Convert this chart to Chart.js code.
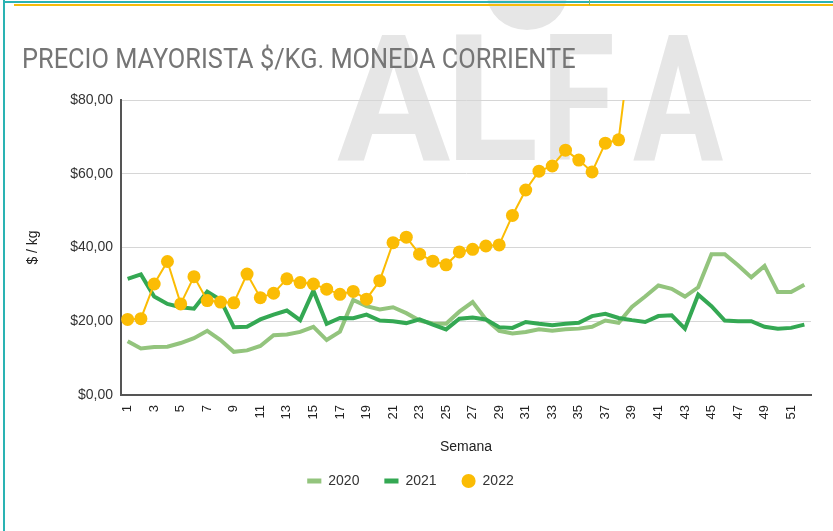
<!DOCTYPE html>
<html><head><meta charset="utf-8">
<script src="https://cdn.jsdelivr.net/npm/chart.js@4.4.1/dist/chart.umd.min.js"></script>
<style>
html,body{margin:0;padding:0;background:#fff;}
#wrap{position:relative;width:833px;height:531px;overflow:hidden;background:#fff;}
canvas{position:absolute;left:0;top:0;}
#title{position:absolute;left:22px;top:45px;font-family:Roboto,sans-serif;font-size:28px;line-height:28px;color:#757575;white-space:nowrap;transform:scaleX(0.906);transform-origin:0 0;}
.b{position:absolute;}
</style></head><body>
<div id="wrap">
<canvas id="c" width="833" height="531"></canvas>
<div id="title">PRECIO MAYORISTA $/KG. MONEDA CORRIENTE</div>
<div class="b" style="left:3px;top:0;width:2px;height:531px;background:#2ab3b3"></div>
<div class="b" style="left:3px;top:1px;width:830px;height:2px;background:#2ab3b3"></div>
<div class="b" style="left:14px;top:4px;width:819px;height:2px;background:#f6bb0a"></div>
<div class="b" style="left:589px;top:0;width:1px;height:5px;background:#7fb66a"></div>
</div>
<script>
const weeks = ['1','2','3','4','5','6','7','8','9','10','11','12','13','14','15','16','17','18','19','20','21','22','23','24','25','26','27','28','29','30','31','32','33','34','35','36','37','38','39','40','41','42','43','44','45','46','47','48','49','50','51','52'];
const p2020 = [14.6,12.6,13.0,13.1,14.1,15.4,17.4,14.9,11.7,12.1,13.3,16.2,16.4,17.1,18.5,14.9,17.2,25.8,24.1,23.2,23.8,22.2,20.2,19.4,19.3,22.6,25.2,20.5,17.4,16.7,17.1,17.8,17.4,17.8,18.0,18.5,20.2,19.6,23.9,26.7,29.7,28.8,26.7,29.2,38.2,38.2,35.2,31.9,35.0,27.9,27.9,29.9];
const p2021 = [31.5,32.7,26.7,24.7,23.8,23.4,28.0,25.8,18.4,18.5,20.5,21.8,22.9,20.3,28.3,19.3,20.9,20.8,21.8,20.2,20.0,19.5,20.5,19.1,17.8,20.7,21.0,20.5,18.4,18.2,19.8,19.3,18.9,19.3,19.6,21.4,22.0,20.9,20.3,19.8,21.4,21.6,18.0,27.2,24.1,20.2,20.0,20.0,18.5,18.0,18.2,19.1];
const p2022 = [20.5,20.7,30.1,36.2,24.7,32.1,25.6,25.2,25.0,32.8,26.4,27.6,31.5,30.5,30.1,28.7,27.3,28.1,26.0,31.0,41.3,42.8,38.2,36.3,35.3,38.8,39.5,40.4,40.7,48.7,55.6,60.7,62.1,66.4,63.7,60.5,68.3,69.2,98.0,null,null,null,null,null,null,null,null,null,null,null,null,null];
const seriesNames = ['2020','2021','2022'];
const yTicks = [0,20,40,60,80];

const watermark = {
  id:'wm',
  beforeDraw(chart){
    const ctx = chart.ctx;
    ctx.save();
    ctx.fillStyle = '#e6e6e6';
    ctx.font = 'bold 176px Roboto';
    ctx.textBaseline = 'alphabetic';
    const letters = [['A',337,450],['L',456,535],['F',550,612],['A',633,723]];
    letters.forEach(([ch,x0,x1])=>{
      const m = ctx.measureText(ch);
      const gw = m.actualBoundingBoxLeft + m.actualBoundingBoxRight;
      const sx = (x1-x0)/gw;
      ctx.save();
      ctx.translate(x0,160);
      ctx.scale(sx,1);
      ctx.fillText(ch, m.actualBoundingBoxLeft, 0);
      ctx.restore();
    });
    ctx.beginPath();
    ctx.ellipse(527,-6,40,36,0,0,Math.PI);
    ctx.fill();
    ctx.restore();
  }
};

new Chart(document.getElementById('c'), {
  type:'line',
  data:{
    labels: weeks,
    datasets:[
      {label:seriesNames[0], data:p2020, borderColor:'#93c47d', backgroundColor:'#93c47d', borderWidth:4, pointRadius:0, tension:0, order:3},
      {label:seriesNames[1], data:p2021, borderColor:'#34a853', backgroundColor:'#34a853', borderWidth:4, pointRadius:0, tension:0, order:2},
      {label:seriesNames[2], data:p2022, borderColor:'#fbbc04', backgroundColor:'#fbbc04', borderWidth:2, pointRadius:6.5, pointBackgroundColor:'#fbbc04', pointBorderWidth:0, tension:0, order:1, spanGaps:false}
    ]
  },
  options:{
    responsive:false,
    animation:false,
    events:[],
    devicePixelRatio:1,
    layout:{padding:{left:10,right:22,top:100,bottom:33}},
    scales:{
      x:{
        type:'category',
        offset:true,
        grid:{display:false},
        border:{display:true,color:'#555',width:2},
        ticks:{autoSkip:false,maxRotation:90,minRotation:90,padding:2,color:'#222',font:{family:'Arial',size:13},
          callback:(v,i)=> i%2===0 ? weeks[i] : ''},
        title:{display:true,text:'Semana',color:'#222',font:{family:'Arial',size:14},padding:{top:4,bottom:-6.4}},
        afterFit(s){ s.height = 54; }
      },
      y:{
        min:0,max:80,
        afterBuildTicks(s){ s.ticks = yTicks.map(v=>({value:v})); },
        grid:{color:'#d6d6d6',lineWidth:1,drawTicks:false},
        border:{display:true,color:'#555',width:2},
        ticks:{padding:8,color:'#333',font:{family:'Arial',size:14},
          callback:v=>'$'+Number(v).toFixed(2).replace('.',',')},
        title:{display:true,text:'$ / kg',color:'#222',font:{family:'Arial',size:14},padding:{top:15,bottom:0}},
        afterFit(s){ s.width = 111; }
      }
    },
    plugins:{
      legend:{
        position:'bottom',
        labels:{
          usePointStyle:true,boxWidth:22,boxHeight:10,padding:25,color:'#333',font:{family:'Arial',size:14},
          generateLabels(chart){
            return chart.data.datasets.map((ds,i)=>({text:ds.label,fillStyle:ds.backgroundColor,strokeStyle:ds.borderColor,lineWidth:i<2?5:0,pointStyle:i<2?'line':'circle',hidden:false,datasetIndex:i,fontColor:'#333'}));
          }
        }
      },
      tooltip:{enabled:false}
    }
  },
  plugins:[watermark]
});
</script>
</body></html>
